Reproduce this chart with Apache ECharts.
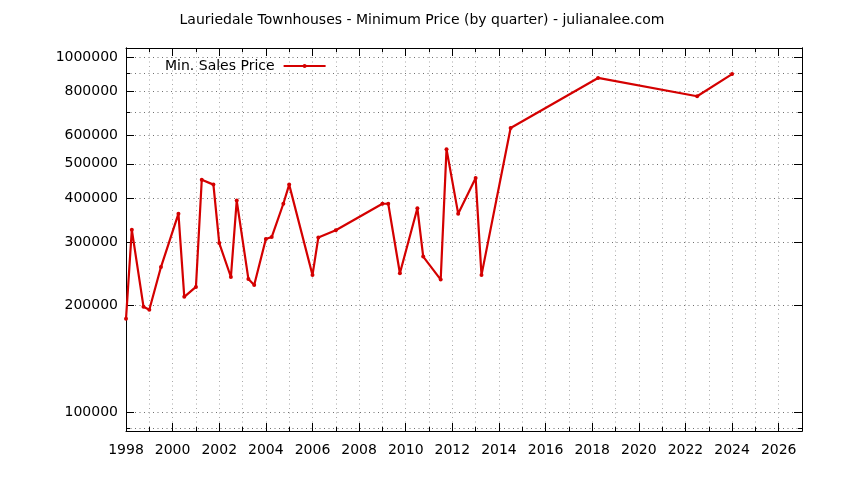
<!DOCTYPE html>
<html>
<head>
<meta charset="utf-8">
<script src="https://cdn.jsdelivr.net/npm/echarts@6/dist/echarts.min.js"></script>
<style>html,body{margin:0;padding:0;background:#fff}#c{width:844px;height:480px}</style>
</head>
<body>
<div id="c"></div>
<script>
const titleText = 'Lauriedale Townhouses - Minimum Price (by quarter) - julianalee.com';
const seriesName = 'Min. Sales Price';
const years = [1998.0, 1998.25, 1998.75, 1999.0, 1999.5, 2000.25, 2000.5, 2001.0, 2001.25, 2001.75,
  2002.0, 2002.5, 2002.75, 2003.25, 2003.5, 2004.0, 2004.25, 2004.75, 2005.0, 2006.0,
  2006.25, 2007.0, 2009.0, 2009.25, 2009.75, 2010.5, 2010.75, 2011.5, 2011.75, 2012.25,
  2013.0, 2013.25, 2014.5, 2018.25, 2022.5, 2024.0];
const prices = [183000, 326000, 198000, 194000, 256000, 362000, 211000, 225000, 451000, 437000,
  299000, 240000, 394000, 237000, 228000, 307000, 311000, 386000, 437000, 243000,
  310000, 325000, 386000, 386000, 246000, 375000, 274000, 236000, 550000, 362000,
  456000, 243000, 631000, 873000, 775000, 895000];
const yMajorTicks = [100000, 200000, 300000, 400000, 500000, 600000, 800000, 1000000];
const yMinorTicks = [90000, 700000, 900000];
const xMin = 1998, xMax = 2027, xStep = 2;
const yMin = 88400, yMax = 1060000;

const FONT = 'DejaVu Sans';
const lineColor = '#d40000';
const points = years.map((y, i) => [y, prices[i]]);

function xAx(pos, labels) {
  return {
    type: 'value', position: pos, min: xMin, max: xMax, interval: xStep,
    axisLine: { show: true, onZero: false, lineStyle: { color: '#000', width: 1 } },
    axisTick: { show: true, inside: true, length: 8, lineStyle: { color: '#000' } },
    minorTick: { show: true, splitNumber: 2, length: 4, lineStyle: { color: '#000' } },
    splitLine: { show: labels, lineStyle: { color: '#a8a8a8', type: [1, 3.5] } },
    minorSplitLine: { show: labels, lineStyle: { color: '#a8a8a8', type: [1, 3.5] } },
    axisLabel: { show: labels, color: '#000', fontFamily: FONT, fontSize: 14, margin: 12,
      formatter: v => String(v) },
  };
}
function yAx(pos, ticks, len, labels, grid) {
  return {
    type: 'log', position: pos, min: yMin, max: yMax, logBase: 10,
    axisLine: { show: true, onZero: false, lineStyle: { color: '#000', width: 1 } },
    axisTick: { show: true, inside: true, length: len, customValues: ticks, lineStyle: { color: '#000' } },
    minorTick: { show: false },
    splitLine: { show: grid, lineStyle: { color: '#707070', type: [1, 3.5] } },
    axisLabel: labels ? { show: true, customValues: ticks, color: '#000', fontFamily: FONT, fontSize: 14, margin: 8,
      formatter: v => String(Math.round(v)) } : { show: false },
  };
}

const chart = echarts.init(document.getElementById('c'), null, { renderer: 'canvas' });
chart.setOption({
  animation: false,
  backgroundColor: '#fff',
  title: {
    text: titleText, left: 'center', top: 8,
    textStyle: { fontFamily: FONT, fontSize: 14, fontWeight: 'normal', color: '#000' }
  },
  legend: {
    data: [seriesName], left: 160, top: 54, align: 'right',
    itemWidth: 42, itemHeight: 5,
    textStyle: { fontFamily: FONT, fontSize: 14, color: '#000', padding: [0, 4, 0, 0] }
  },
  grid: { left: 126, right: 42, top: 48, bottom: 49, containLabel: false },
  xAxis: [xAx('bottom', true), xAx('top', false)],
  yAxis: [
    yAx('left', yMajorTicks, 8, true, true),
    yAx('left', yMinorTicks, 4, false, true),
    yAx('right', yMajorTicks, 8, false, false),
    yAx('right', yMinorTicks, 4, false, false)
  ],
  series: [{
    name: seriesName, type: 'line', xAxisIndex: 0, yAxisIndex: 0,
    data: points, showSymbol: true, symbol: 'circle', symbolSize: 4,
    lineStyle: { color: lineColor, width: 2.2 },
    itemStyle: { color: lineColor }
  }]
});
</script>
</body>
</html>
